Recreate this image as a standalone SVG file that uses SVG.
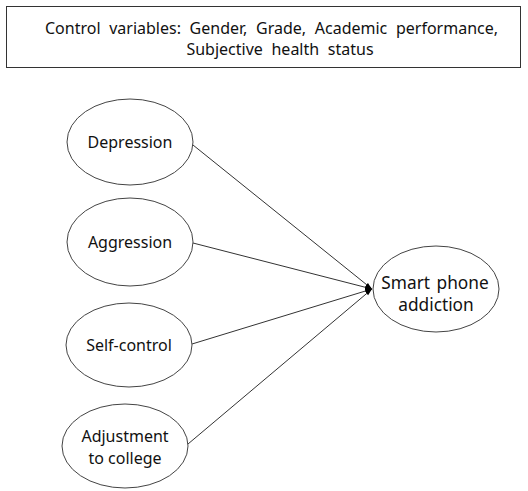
<svg xmlns="http://www.w3.org/2000/svg" width="528" height="491" viewBox="0 0 528 491">
<style>
text{font-family:"Noto Sans","Liberation Sans",sans-serif;font-size:16px;fill:#111;text-anchor:middle}
.t{font-size:16px;word-spacing:4.5px}
.big{font-size:17.3px;word-spacing:2px}
.n{fill:#fff;stroke:#444;stroke-width:1}
.c{stroke:#333;stroke-width:1;fill:none;marker-end:url(#ah)}
</style>
<defs>
<marker id="ah" markerWidth="8" markerHeight="6" refX="7" refY="3" orient="auto" markerUnits="userSpaceOnUse">
<path d="M0,0.8 L7,3 L0,5.2 Z" fill="#000"/>
</marker>
</defs>
<rect width="528" height="491" fill="#fff"/>
<g id="controls">
<rect x="6.5" y="6.5" width="514" height="61" fill="#fff" stroke="#333"/>
<text class="t" x="271.5" y="34">Control variables: Gender, Grade, Academic performance,</text>
<text class="t" x="280" y="55">Subjective health status</text>
</g>
<g id="connectors">
<line class="c" x1="193" y1="145" x2="372" y2="289"/>
<line class="c" x1="193" y1="243" x2="372" y2="289"/>
<line class="c" x1="192" y1="344" x2="372" y2="289"/>
<line class="c" x1="188" y1="444" x2="372" y2="289"/>
</g>
<g id="depression">
<ellipse class="n" cx="130" cy="142" rx="63" ry="43"/>
<text x="130" y="148">Depression</text>
</g>
<g id="aggression">
<ellipse class="n" cx="130" cy="242" rx="63" ry="44"/>
<text x="130" y="248">Aggression</text>
</g>
<g id="selfcontrol">
<ellipse class="n" cx="129" cy="345" rx="63" ry="42"/>
<text x="129" y="351">Self-control</text>
</g>
<g id="adjustment">
<ellipse class="n" cx="125" cy="446" rx="63" ry="42"/>
<text x="125" y="442">Adjustment</text>
<text x="125" y="464">to college</text>
</g>
<g id="addiction">
<ellipse class="n" cx="436" cy="289" rx="63" ry="43"/>
<text class="big" x="435" y="289">Smart phone</text>
<text class="big" x="436" y="311">addiction</text>
</g>
</svg>
